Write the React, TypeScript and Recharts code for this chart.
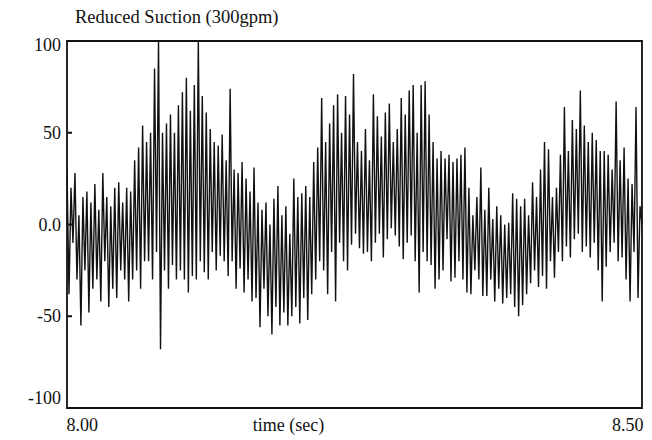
import React from 'react';
import { LineChart, Line, XAxis, YAxis, ReferenceArea } from 'recharts';

const TITLE = 'Reduced Suction (300gpm)';
const X_LABEL = 'time (sec)';
const TIME_START = 7.986;
const TIME_END = 8.513;
const X_TICKS = [8.0, 8.5];
const X_TICK_LABELS = ['8.00', '8.50'];
const Y_TICKS = [100, 50, 0, -50, -100];
const Y_TICK_LABELS = ['100', '50', '0.0', '-50', '-100'];

// Signal values (left to right)
const signal = [
  30, -38, 20, -10, 28, -30, 5, -55, 15, -25,
  18, -48, 12, -35, 22, -30, 8, -42, 28, -20,
  15, -45, 10, -35, 20, -40, 23, -25, 12, -30,
  20, -42, 18, -30, 35, -25, 42, -35, 54, -20,
  45, -20, 50, -30, 85, -15, 100, -68, 50, -25,
  55, -35, 60, -22, 50, -30, 65, -25, 72, -30,
  80, -37, 62, -28, 76, -30, 100, -20, 70, -26,
  61, -30, 52, -15, 45, -25, 43, -17, 49, -20,
  35, -28, 74, -20, 30, -35, 28, -24, 34, -37,
  25, -30, 18, -42, 31, -40, 12, -56, 8, -35,
  12, -50, 0, -60, 14, -45, 21, -55, 5, -48,
  10, -55, -5, -50, 25, -45, 15, -54, 17, -40,
  21, -52, 15, -38, 34, -30, 42, -20, 69, -25,
  45, -38, 55, -15, 65, -42, 71, -10, 50, -20,
  70, -25, 60, -11, 82, -5, 45, -13, 40, -16,
  52, -15, 35, -20, 71, -10, 59, -5, 48, -18,
  61, -8, 66, -2, 45, -6, 52, -12, 69, -19,
  60, -10, 73, -6, 76, -20, 50, -37, 76, -15,
  78, -20, 60, -22, 45, -35, 36, -30, 40, -25,
  36, -8, 38, -31, 34, -29, 36, -20, 38, -30,
  42, -37, 20, -38, 5, -25, 15, -30, 31, -39,
  8, -39, 20, -30, 3, -42, 10, -35, 5, -43,
  0, -40, 1, -38, 17, -45, 14, -50, 10, -44,
  14, -38, 5, -32, 23, -25, 15, -34, 30, -28,
  45, -35, 41, -20, 15, -29, 20, -15, 38, -20,
  64, -12, 40, -18, 57, -8, 52, -5, 73, -15,
  54, -12, 45, -18, 50, -10, 46, -25, 40, -42,
  40, -23, 38, -15, 30, -10, 67, -20, 35, -18,
  42, -30, 25, -42, 22, -15, 64, -40, 10, 0,
];

const data = signal.map((v, i) => ({
  t: TIME_START + (i * (TIME_END - TIME_START)) / (signal.length - 1),
  v,
}));

const FONT = '"Liberation Serif", "DejaVu Serif", serif';

const YTick = (props: any) => {
  const { x, y, payload } = props;
  const idx = Y_TICKS.indexOf(payload.value);
  const label = idx >= 0 ? Y_TICK_LABELS[idx] : String(payload.value);
  let dy = 6;
  if (payload.value === 100) dy = 10;
  if (payload.value === -100) dy = -4;
  const showMark = payload.value !== 100 && payload.value !== -100;
  return (
    <g>
      <text x={x} y={y + dy} textAnchor="end" fontFamily={FONT} fontSize={18} fill="#111">
        {label}
      </text>
      {showMark && <line x1={x + 6} x2={x + 11} y1={y} y2={y} stroke="#111" strokeWidth={2} />}
    </g>
  );
};

const XTick = (props: any) => {
  const { x, y, payload } = props;
  const idx = X_TICKS.indexOf(payload.value);
  const label = idx >= 0 ? X_TICK_LABELS[idx] : String(payload.value);
  return (
    <text x={x} y={y + 23} textAnchor="middle" fontFamily={FONT} fontSize={18} fill="#111">
      {label}
    </text>
  );
};

export default function App() {
  return (
    <div style={{ position: 'absolute', left: 0, top: 0, width: 652, height: 440, background: '#fff' }}>
      <svg style={{ position: 'absolute', left: 0, top: 0 }} width={652} height={40}>
        <text x={75} y={23} fontFamily={FONT} fontSize={18.5} fill="#111">
          {TITLE}
        </text>
      </svg>
      <LineChart
        width={652}
        height={440}
        data={data}
        margin={{ top: 41, right: 10, bottom: 0, left: 7 }}
      >
        <XAxis
          dataKey="t"
          type="number"
          domain={[TIME_START, TIME_END]}
          ticks={X_TICKS}
          allowDataOverflow
          axisLine={false}
          tickLine={false}
          tickSize={0}
          tickMargin={0}
          height={32}
          tick={<XTick />}
          label={{
            value: X_LABEL,
            position: 'insideBottom',
            dx: -66,
            offset: 9,
            style: { fontFamily: FONT, fontSize: 18, fill: '#111' },
          }}
        />
        <YAxis
          type="number"
          domain={[-100, 100]}
          ticks={Y_TICKS}
          allowDataOverflow
          axisLine={false}
          tickLine={false}
          tickSize={0}
          tickMargin={6}
          width={60}
          tick={<YTick />}
        />
        <ReferenceArea
          x1={TIME_START}
          x2={TIME_END}
          y1={-100}
          y2={100}
          fill="none"
          stroke="#111"
          strokeWidth={1.8}
          ifOverflow="visible"
        />
        <Line
          type="linear"
          dataKey="v"
          stroke="#111"
          strokeWidth={1.4}
          dot={false}
          isAnimationActive={false}
        />
      </LineChart>
    </div>
  );
}
